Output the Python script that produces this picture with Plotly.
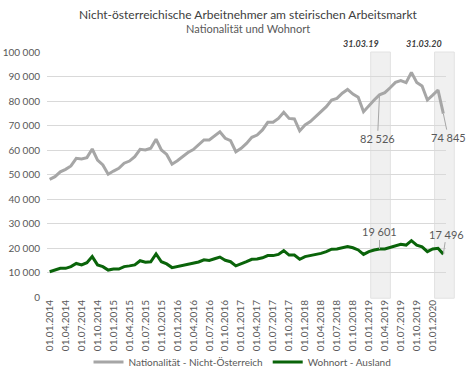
import plotly.graph_objects as go

# ---------------- data ----------------
months = [f"01.{m:02d}.{y}" for y in range(2014, 2021) for m in range(1, 13)][:75]

nationalitaet = [
    48000, 49100, 51100, 52100, 53500, 56600, 56300, 56900, 60400, 55900,
    53900, 50100, 51400, 52500, 54600, 55500, 57300, 60300, 60000, 60700,
    64400, 60000, 58200, 54200, 55600, 57400, 59000, 60200, 62200, 64100,
    64100, 65600, 67400, 64800, 63800, 59300, 60700, 62700, 65200, 66100,
    68200, 71300, 71300, 72900, 75400, 72900, 72700, 67800, 70200, 71600,
    73600, 75600, 77700, 80400, 81100, 83200, 84700, 82800, 81500, 75600,
    78100, 80400, 82526, 83400, 85400, 87600, 88300, 87500, 91700, 87600,
    86100, 80400, 82400, 84500, 74845,
]

wohnort = [
    10300, 11000, 11700, 11700, 12400, 13700, 13100, 14000, 16500, 13100,
    12400, 11000, 11400, 11400, 12400, 12700, 13100, 14800, 14200, 14400,
    17600, 14400, 13500, 12000, 12400, 12900, 13500, 13800, 14300, 15200,
    14900, 15600, 16300, 15000, 14400, 12700, 13400, 14400, 15400, 15500,
    16000, 16900, 16900, 17400, 18900, 17100, 17100, 15400, 16500, 16900,
    17400, 17800, 18500, 19500, 19600, 20200, 20600, 20100, 19200, 17400,
    18500, 19200, 19601, 19600, 20300, 20900, 21500, 21200, 23000, 21200,
    20500, 18500, 19600, 19900, 17496,
]

highlight_labels = ["31.03.19", "31.03.20"]
highlight_index = [62, 74]

tick_every = 3
tick_idx = list(range(0, len(months), tick_every))
tick_text = [months[i] for i in tick_idx]

# ---------------- figure ----------------
FONT = "Lato"
x = list(range(len(months)))
xmin, xmax = -0.5, len(months) - 0.5
ymin, ymax = 0, 100000

def px_x(i):
    return (i - xmin) / (xmax - xmin)

def px_y(v):
    return (v - ymin) / (ymax - ymin)

fig = go.Figure()
fig.add_trace(go.Scatter(
    x=x, y=nationalitaet, mode="lines", name="Nationalität - Nicht-Österreich",
    line=dict(color="#a6a6a6", width=3), hoverinfo="skip"))
fig.add_trace(go.Scatter(
    x=x, y=wohnort, mode="lines", name="Wohnort - Ausland",
    line=dict(color="#0a640a", width=3), hoverinfo="skip"))

band_w = 3.7
shapes = []
annotations = []
for lab, idx in zip(highlight_labels, highlight_index):
    c = idx + 0.2
    x0 = px_x(c - band_w / 2)
    x1 = px_x(c + band_w / 2)
    shapes.append(dict(type="rect", xref="paper", yref="paper", x0=x0, x1=x1, y0=-0.005, y1=1,
                       fillcolor="#f0f0f0", line=dict(color="#e2e2e2", width=1), layer="below"))
    annotations.append(dict(xref="paper", yref="paper", x=(x0 + x1) / 2, y=1, yanchor="bottom",
                            yshift=1, text=f"<b><i>{lab}</i></b>", showarrow=False,
                            font=dict(family=FONT, size=9, color="#404040")))

def val_label(i, series, ax, ay):
    return dict(x=px_x(i), y=px_y(series[i]), xref="paper", yref="paper",
                text=f"{series[i]:,}".replace(",", " "), showarrow=True, arrowhead=0,
                arrowwidth=1, arrowcolor="#a6a6a6", ax=ax, ay=ay,
                font=dict(family=FONT, size=11, color="#595959"))

annotations += [
    val_label(62, nationalitaet, -2, 44),
    val_label(74, nationalitaet, 5, 24),
    val_label(62, wohnort, 0, -17),
    val_label(74, wohnort, 3, -20),
]

annotations += [
    dict(xref="paper", yref="paper", x=0.505, y=1.155, yanchor="middle", showarrow=False,
         text="Nicht-österreichische Arbeitnehmer am steirischen Arbeitsmarkt",
         font=dict(family=FONT, size=12, color="#404040")),
    dict(xref="paper", yref="paper", x=0.505, y=1.094, yanchor="middle", showarrow=False,
         text="Nationalität und Wohnort",
         font=dict(family=FONT, size=11, color="#595959")),
]

fig.update_layout(
    width=467, height=377,
    margin=dict(l=47, r=21, t=52, b=80, autoexpand=False),
    paper_bgcolor="white", plot_bgcolor="rgba(0,0,0,0)",
    separators=", ",
    font=dict(family=FONT, size=10, color="#595959"),
    showlegend=True,
    legend=dict(orientation="h", x=0.49, xanchor="center", y=-0.265, yanchor="middle",
                font=dict(family=FONT, size=10, color="#595959"), itemwidth=30,
                bgcolor="rgba(0,0,0,0)"),
    shapes=shapes,
    annotations=annotations,
)
fig.update_xaxes(range=[xmin, xmax], tickmode="array", tickvals=tick_idx, ticktext=tick_text,
                 tickangle=-90, showgrid=False, zeroline=False, showline=False, automargin=False,
                 tickfont=dict(family=FONT, size=10, color="#595959"), ticks="", ticklen=0)
fig.update_yaxes(range=[ymin, ymax], dtick=10000, tickformat=",d", showgrid=True,
                 gridcolor="#d9d9d9", gridwidth=1, zeroline=False, showline=False, automargin=False,
                 tickfont=dict(family=FONT, size=10, color="#595959"), ticks="",
                 ticklabelstandoff=6)

fig.write_html(
    "out.html",
    config={"displayModeBar": False},
    post_script="document.body.style.margin='0';document.body.style.overflow='hidden';",
)
